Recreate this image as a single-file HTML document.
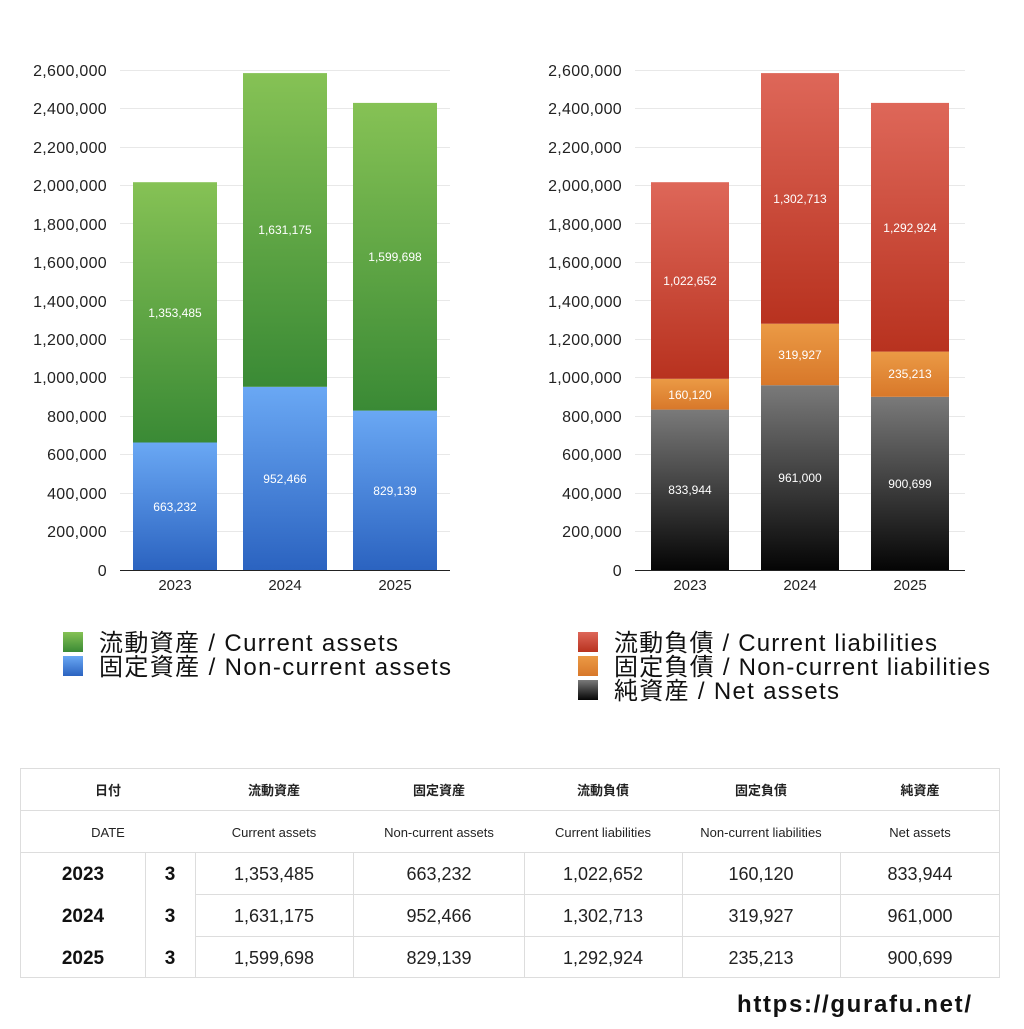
<!DOCTYPE html>
<html><head><meta charset="utf-8"><style>
body{margin:0;background:#fff;width:1024px;height:1024px;overflow:hidden}
svg text{font-family:"Liberation Sans","Noto Sans CJK JP",sans-serif}
</style></head><body>
<svg width="1024" height="1024" viewBox="0 0 1024 1024">
<defs>
<linearGradient id="g" x1="0" y1="0" x2="0" y2="1"><stop offset="0" stop-color="#86c255"/><stop offset="1" stop-color="#3a8a35"/></linearGradient>
<linearGradient id="b" x1="0" y1="0" x2="0" y2="1"><stop offset="0" stop-color="#6aa8f4"/><stop offset="1" stop-color="#2b63c0"/></linearGradient>
<linearGradient id="r" x1="0" y1="0" x2="0" y2="1"><stop offset="0" stop-color="#de6759"/><stop offset="1" stop-color="#b8321f"/></linearGradient>
<linearGradient id="o" x1="0" y1="0" x2="0" y2="1"><stop offset="0" stop-color="#eb9a45"/><stop offset="1" stop-color="#d8782a"/></linearGradient>
<linearGradient id="k" x1="0" y1="0" x2="0" y2="1"><stop offset="0" stop-color="#7a7a7a"/><stop offset="1" stop-color="#050505"/></linearGradient>
</defs>
<g stroke="#e8e8e8" stroke-width="1">
<line x1="120" x2="450" y1="70.5" y2="70.5"/><line x1="120" x2="450" y1="108.5" y2="108.5"/><line x1="120" x2="450" y1="147.5" y2="147.5"/><line x1="120" x2="450" y1="185.5" y2="185.5"/><line x1="120" x2="450" y1="223.5" y2="223.5"/><line x1="120" x2="450" y1="262.5" y2="262.5"/><line x1="120" x2="450" y1="300.5" y2="300.5"/><line x1="120" x2="450" y1="339.5" y2="339.5"/><line x1="120" x2="450" y1="377.5" y2="377.5"/><line x1="120" x2="450" y1="416.5" y2="416.5"/><line x1="120" x2="450" y1="454.5" y2="454.5"/><line x1="120" x2="450" y1="493.5" y2="493.5"/><line x1="120" x2="450" y1="531.5" y2="531.5"/>
<line x1="635" x2="965" y1="70.5" y2="70.5"/><line x1="635" x2="965" y1="108.5" y2="108.5"/><line x1="635" x2="965" y1="147.5" y2="147.5"/><line x1="635" x2="965" y1="185.5" y2="185.5"/><line x1="635" x2="965" y1="223.5" y2="223.5"/><line x1="635" x2="965" y1="262.5" y2="262.5"/><line x1="635" x2="965" y1="300.5" y2="300.5"/><line x1="635" x2="965" y1="339.5" y2="339.5"/><line x1="635" x2="965" y1="377.5" y2="377.5"/><line x1="635" x2="965" y1="416.5" y2="416.5"/><line x1="635" x2="965" y1="454.5" y2="454.5"/><line x1="635" x2="965" y1="493.5" y2="493.5"/><line x1="635" x2="965" y1="531.5" y2="531.5"/>
</g>
<g font-size="16" fill="#222" text-anchor="end" letter-spacing="0.3">
<text x="107" y="76">2,600,000</text><text x="107" y="114">2,400,000</text><text x="107" y="153">2,200,000</text><text x="107" y="191">2,000,000</text><text x="107" y="230">1,800,000</text><text x="107" y="268">1,600,000</text><text x="107" y="307">1,400,000</text><text x="107" y="345">1,200,000</text><text x="107" y="383">1,000,000</text><text x="107" y="422">800,000</text><text x="107" y="460">600,000</text><text x="107" y="499">400,000</text><text x="107" y="537">200,000</text><text x="107" y="576">0</text>
<text x="622" y="76">2,600,000</text><text x="622" y="114">2,400,000</text><text x="622" y="153">2,200,000</text><text x="622" y="191">2,000,000</text><text x="622" y="230">1,800,000</text><text x="622" y="268">1,600,000</text><text x="622" y="307">1,400,000</text><text x="622" y="345">1,200,000</text><text x="622" y="383">1,000,000</text><text x="622" y="422">800,000</text><text x="622" y="460">600,000</text><text x="622" y="499">400,000</text><text x="622" y="537">200,000</text><text x="622" y="576">0</text>
</g>
<rect x="133" y="442.5" width="84" height="127.5" fill="url(#b)"/><rect x="133" y="182.2" width="84" height="260.3" fill="url(#g)"/>
<rect x="243" y="386.8" width="84" height="183.2" fill="url(#b)"/><rect x="243" y="73.1" width="84" height="313.7" fill="url(#g)"/>
<rect x="353" y="410.6" width="84" height="159.4" fill="url(#b)"/><rect x="353" y="102.9" width="84" height="307.7" fill="url(#g)"/>
<rect x="651" y="409.6" width="78" height="160.4" fill="url(#k)"/><rect x="651" y="378.8" width="78" height="30.8" fill="url(#o)"/><rect x="651" y="182.2" width="78" height="196.6" fill="url(#r)"/>
<rect x="761" y="385.2" width="78" height="184.8" fill="url(#k)"/><rect x="761" y="323.7" width="78" height="61.5" fill="url(#o)"/><rect x="761" y="73.1" width="78" height="250.6" fill="url(#r)"/>
<rect x="871" y="396.8" width="78" height="173.2" fill="url(#k)"/><rect x="871" y="351.6" width="78" height="45.2" fill="url(#o)"/><rect x="871" y="102.9" width="78" height="248.7" fill="url(#r)"/>
<g stroke="#222" stroke-width="1"><line x1="120" x2="450" y1="570.5" y2="570.5"/><line x1="635" x2="965" y1="570.5" y2="570.5"/></g>
<g font-size="12" fill="#fff" text-anchor="middle">
<text x="175" y="511">663,232</text><text x="175" y="317">1,353,485</text>
<text x="285" y="483">952,466</text><text x="285" y="234">1,631,175</text>
<text x="395" y="495">829,139</text><text x="395" y="261">1,599,698</text>
<text x="690" y="494">833,944</text><text x="690" y="399">160,120</text><text x="690" y="285">1,022,652</text>
<text x="800" y="482">961,000</text><text x="800" y="359">319,927</text><text x="800" y="203">1,302,713</text>
<text x="910" y="488">900,699</text><text x="910" y="378">235,213</text><text x="910" y="232">1,292,924</text>
</g>
<g font-size="15" fill="#222" text-anchor="middle">
<text x="175" y="590">2023</text><text x="285" y="590">2024</text><text x="395" y="590">2025</text>
<text x="690" y="590">2023</text><text x="800" y="590">2024</text><text x="910" y="590">2025</text>
</g>
<rect x="63" y="632" width="20" height="20" fill="url(#g)"/><rect x="63" y="656" width="20" height="20" fill="url(#b)"/>
<rect x="578" y="632" width="20" height="20" fill="url(#r)"/><rect x="578" y="656" width="20" height="20" fill="url(#o)"/><rect x="578" y="680" width="20" height="20" fill="url(#k)"/>
<g font-size="24" fill="#111">
<text x="99" y="651" textLength="299" lengthAdjust="spacing">流動資産 / Current assets</text><text x="99" y="675" textLength="352" lengthAdjust="spacing">固定資産 / Non-current assets</text>
<text x="614" y="651" textLength="323" lengthAdjust="spacing">流動負債 / Current liabilities</text><text x="614" y="675" textLength="376" lengthAdjust="spacing">固定負債 / Non-current liabilities</text><text x="614" y="699" textLength="225" lengthAdjust="spacing">純資産 / Net assets</text>
</g>
<g stroke="#ddd" stroke-width="1" fill="none">
<rect x="20.5" y="768.5" width="979" height="209"/>
<line x1="20" x2="1000" y1="810.5" y2="810.5"/><line x1="20" x2="1000" y1="852.5" y2="852.5"/>
<line x1="195" x2="1000" y1="894.5" y2="894.5"/><line x1="195" x2="1000" y1="936.5" y2="936.5"/>
<line x1="145.5" x2="145.5" y1="852" y2="978"/><line x1="195.5" x2="195.5" y1="852" y2="978"/><line x1="353.5" x2="353.5" y1="852" y2="978"/><line x1="524.5" x2="524.5" y1="852" y2="978"/><line x1="682.5" x2="682.5" y1="852" y2="978"/><line x1="840.5" x2="840.5" y1="852" y2="978"/>
</g>
<g font-size="13" font-weight="bold" fill="#222" text-anchor="middle">
<text x="108" y="795">日付</text><text x="274" y="795">流動資産</text><text x="439" y="795">固定資産</text><text x="603" y="795">流動負債</text><text x="761" y="795">固定負債</text><text x="920" y="795">純資産</text>
</g>
<g font-size="13" fill="#222" text-anchor="middle">
<text x="108" y="837">DATE</text><text x="274" y="837">Current assets</text><text x="439" y="837">Non-current assets</text><text x="603" y="837">Current liabilities</text><text x="761" y="837">Non-current liabilities</text><text x="920" y="837">Net assets</text>
</g>
<g font-size="19" font-weight="bold" fill="#111" text-anchor="middle">
<text x="83" y="880">2023</text><text x="170" y="880">3</text>
<text x="83" y="922">2024</text><text x="170" y="922">3</text>
<text x="83" y="964">2025</text><text x="170" y="964">3</text>
</g>
<g font-size="18" fill="#222" text-anchor="middle">
<text x="274" y="880">1,353,485</text><text x="439" y="880">663,232</text><text x="603" y="880">1,022,652</text><text x="761" y="880">160,120</text><text x="920" y="880">833,944</text>
<text x="274" y="922">1,631,175</text><text x="439" y="922">952,466</text><text x="603" y="922">1,302,713</text><text x="761" y="922">319,927</text><text x="920" y="922">961,000</text>
<text x="274" y="964">1,599,698</text><text x="439" y="964">829,139</text><text x="603" y="964">1,292,924</text><text x="761" y="964">235,213</text><text x="920" y="964">900,699</text>
</g>
<text x="737" y="1012" font-size="24" font-weight="bold" fill="#111" textLength="234" lengthAdjust="spacing">https://gurafu.net/</text>
</svg>
</body></html>
